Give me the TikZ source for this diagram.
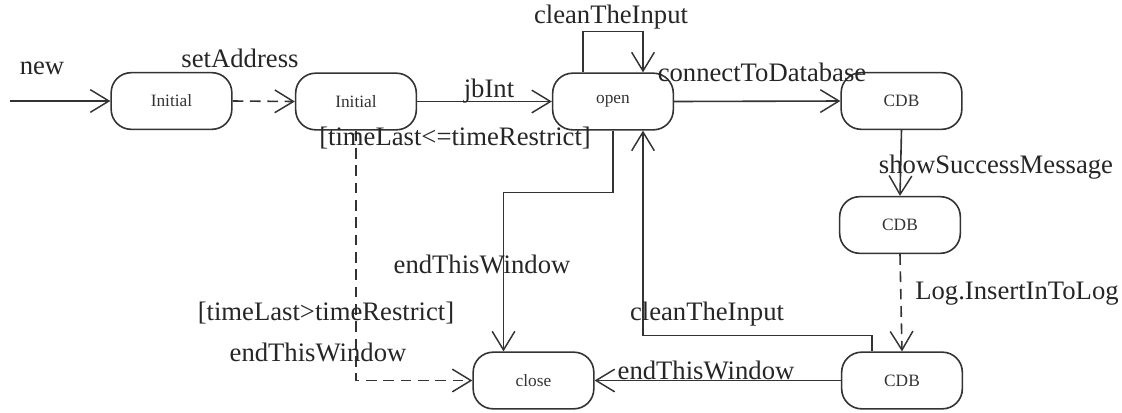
\documentclass[tikz,border=0pt]{standalone}
\usepackage{fontspec}
\setmainfont{Liberation Serif}
\usetikzlibrary{arrows.meta}
\begin{document}
\begin{tikzpicture}[x=0.75pt,y=-0.75pt,
  state/.style={draw=black!80,line width=1.2pt,rounded corners=15pt,minimum width=90.5pt,minimum height=42.5pt,inner sep=0pt,font=\fontsize{13}{15}\selectfont,text=black!80},
  lbl/.style={inner sep=0pt,font=\fontsize{20}{22}\selectfont,text=black!85},
  arr/.style={draw=black!80,line width=1.2pt,-{Straight Barb[length=14pt,width=17pt,line width=1.1pt]}},
  dsh/.style={arr,dash pattern=on 8pt off 5pt}]
\useasboundingbox (0,0) rectangle (1122,412);
\node[state] (i1) at (171.5,101) {Initial};
\node[state] (i2) at (356,101.5) {Initial};
\node[state] (open) at (613,101.5) {open};
\node[state] (cdb1) at (901.5,101) {CDB};
\node[state] (cdb2) at (900,225) {CDB};
\node[state] (cdb3) at (902,380.5) {CDB};
\node[state] (close) at (533.5,380.5) {close};
\coordinate (start) at (10,101);
% edges
\draw[arr] (start) -- (i1.west);
\draw[dsh] (i1.east) -- (i2.west);
\draw[arr] (i2.east) -- (open.west);
\draw[arr] ([xshift=-22.5pt]open.north) -- ++(0,-41) -| ([xshift=22.5pt]open.north);
\draw[arr] (open.east) -- (cdb1.west);
\draw[arr] (cdb1.south) -- (cdb2.north);
\draw[dsh] (cdb2.south) -- (cdb3.north);
\draw[arr] (cdb3.west) -- (close.east);
\draw[arr] ([xshift=-22.5pt]cdb3.north) -- ++(0,-16) -| ([xshift=22.5pt]open.south);
\draw[arr] (open.south) -- ++(0,62) -| ([xshift=-22.5pt]close.north);
\draw[dsh] (i2.south) |- (close.west);
% labels
\node[lbl] (l1) at (42,68) {new};
\node[lbl] (l2) at (240,58) {setAddress};
\node[lbl] (l3) at (489,91) {jbInt};
\node[lbl] (l4) at (455,138) {[timeLast<=timeRestrict]};
\node[lbl] (l5) at (611,17) {cleanTheInput};
\node[lbl] (l6) at (762,72) {connectToDatabase};
\node[lbl] (l7) at (996,167) {showSuccessMessage};
\node[lbl] (l8) at (1017,294) {Log.InsertInToLog};
\node[lbl] (l9) at (482,264) {endThisWindow};
\node[lbl] (l10) at (326,313) {[timeLast>timeRestrict]};
\node[lbl] (l11) at (318,352) {endThisWindow};
\node[lbl] (l12) at (707,314) {cleanTheInput};
\node[lbl] (l13) at (706,370) {endThisWindow};
\end{tikzpicture}
\end{document}
